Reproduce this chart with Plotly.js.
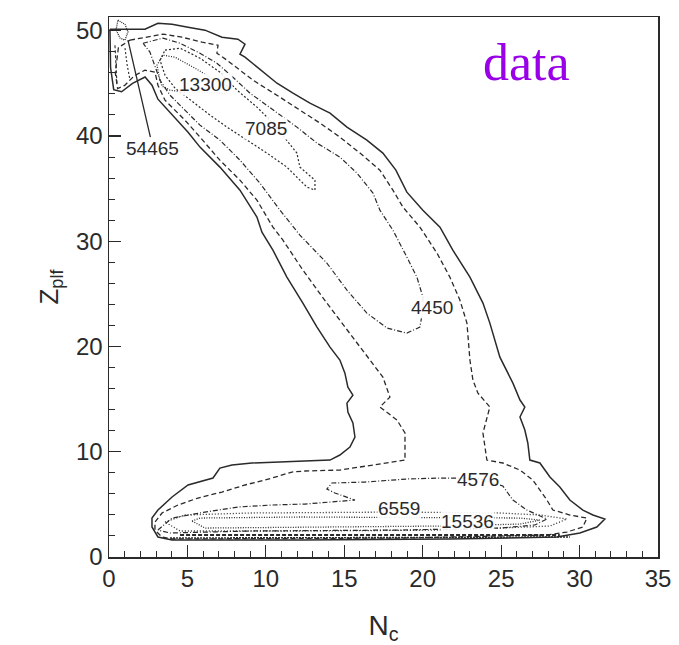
<!DOCTYPE html>
<html>
<head>
<meta charset="utf-8">
<script src="https://cdn.plot.ly/plotly-3.0.1.min.js"></script>
<style>html,body{margin:0;padding:0;background:#fff;}</style>
</head>
<body>
<div id="chart" style="width:679px;height:645px;"></div>
<script>
// Contour lines (x = N_c, y = Z_plf)
const solidX = [0.06,2.29,3.12,4.02,5.04,6.12,7.20,8.22,8.67,8.35,8.67,9.50,10.71,11.73,12.81,14.09,15.17,16.44,17.46,18.29,18.99,20.01,21.10,21.92,23.01,23.84,24.28,24.92,25.75,26.20,26.51,26.20,26.51,26.70,26.83,27.47,28.11,28.74,29.38,30.21,30.85,31.61,31.10,30.02,28.55,21.73,12.17,4.02,3.12,2.74,2.74,3.12,4.02,5.04,6.12,6.63,7.07,7.84,9.11,10.77,12.49,14.09,14.72,15.36,15.68,15.55,15.23,15.17,15.55,15.23,15.04,14.72,14.09,13.26,12.36,11.34,10.45,9.75,9.43,8.35,7.07,5.80,5.04,4.02,3.12,2.74,2.30,1.50,0.80,0.30,0.10,0.06];
const solidY = [50.14,50.14,50.71,50.62,50.33,50.05,49.38,49.19,48.72,47.77,47.48,46.44,45.01,44.06,43.11,42.17,40.84,39.60,38.37,36.75,34.66,32.95,31.34,29.15,26.59,24.12,22.22,18.99,16.52,14.91,14.25,13.30,12.06,10.83,9.21,8.93,7.60,6.65,5.41,4.46,3.99,3.61,2.85,2.28,1.90,1.71,1.61,1.61,1.90,2.85,3.70,4.46,5.70,6.84,7.31,7.50,8.45,8.74,8.93,9.02,9.12,9.21,9.69,10.45,11.40,12.73,13.77,14.62,15.38,16.14,17.47,18.71,19.94,21.84,24.12,26.59,29.15,30.86,32.29,34.85,37.04,38.94,40.36,41.98,43.49,44.82,45.60,45.00,44.20,44.40,46.50,50.14];

const dashX = [1.34,2.29,3.44,4.65,5.93,6.95,6.88,7.52,9.18,10.90,12.17,13.45,14.72,16.00,17.27,18.10,18.74,19.82,20.91,21.73,22.37,22.82,23.01,23.20,23.52,24.28,23.84,24.09,25.11,26.20,27.02,27.47,27.92,28.30,29.38,30.47,30.21,29.19,27.92,18.55,4.02,3.38,2.93,2.93,3.38,4.40,5.67,7.20,8.67,10.39,11.66,12.49,14.72,16.83,18.87,18.87,18.36,17.27,17.91,17.46,16.63,15.36,13.89,12.36,11.09,10.45,9.43,8.35,7.07,5.80,4.84,3.57,3.12,2.93,2.29,1.60,1.00,0.55,0.40,0.60,1.34];
const dashY = [49.10,49.38,49.67,49.38,48.91,48.62,47.86,47.20,45.30,43.68,42.45,41.22,39.89,38.37,36.75,34.85,33.24,31.34,28.87,26.59,24.41,22.22,18.71,16.81,15.57,14.25,11.78,9.21,8.93,8.26,7.31,6.36,5.41,4.46,3.99,3.70,2.85,2.37,2.09,1.80,1.71,1.90,2.56,3.32,4.18,4.94,5.60,6.17,6.84,7.50,8.07,8.17,8.26,8.74,9.21,11.78,13.01,14.25,15.19,17.09,18.71,21.27,24.12,27.26,30.10,31.34,33.90,35.80,37.70,39.89,41.50,43.40,44.82,46.06,46.25,45.70,44.80,44.50,46.00,48.40,49.10];

const c4450X = [2.17,3.44,4.53,5.80,6.88,7.90,8.99,10.45,11.98,13.26,14.72,15.81,16.83,17.27,18.10,18.99,19.63,20.01,20.01,19.82,18.99,17.72,16.44,15.17,13.89,12.17,10.90,9.62,8.35,7.07,5.80,4.84,3.89,3.25,2.93,2.61,2.17];
const c4450Y = [48.81,49.29,48.81,47.86,46.91,45.58,44.06,42.45,40.84,39.32,37.99,36.47,34.57,32.95,31.05,28.49,26.59,24.69,23.46,21.84,21.27,21.75,23.17,25.36,27.92,30.58,32.95,35.52,37.70,39.60,41.03,42.45,43.87,45.30,46.72,47.96,48.81];

const c7085X = [3.57,4.53,5.80,7.07,8.16,9.43,10.45,11.34,11.98,12.17,12.62,13.13,13.13,12.62,12.17,11.34,10.07,8.80,7.52,6.44,5.16,4.21,3.57,3.25,3.57];
const c7085Y = [48.15,48.34,47.39,46.06,44.35,42.74,41.22,39.60,38.37,37.04,36.47,35.80,34.85,35.14,35.80,37.04,38.37,39.60,40.84,41.98,43.40,44.54,45.77,47.20,48.15];

const c13300X = [3.25,3.06,3.44,4.21,5.48,6.76,7.84,7.39,6.12,4.84,3.89,3.38,3.25];
const c13300Y = [45.30,46.72,47.67,47.48,46.44,45.30,44.54,44.06,44.16,44.16,44.35,44.73,45.30];

const c54465X = [0.57,1.02,1.21,1.02,0.70,0.45,0.57];
const c54465Y = [51.0,50.6,49.9,49.1,49.3,50.1,51.0];

const fanAX = [0.38,0.45,0.51];
const fanAY = [48.62,46.5,44.9];
const fanBX = [1.02,1.15,1.34];
const fanBY = [48.34,46.8,45.30];

const c4576X = [3.12,4.02,6.12,8.22,10.39,12.49,15.68,14.40,13.89,14.21,16.32,18.99,21.10,23.52,25.11,25.75,26.64,27.92,27.15,24.92,18.55,8.99,3.89,3.12];
const c4576Y = [2.56,3.70,4.27,4.75,4.94,5.03,5.41,6.08,6.46,7.03,7.12,7.41,7.50,7.50,6.74,5.41,4.46,3.61,3.04,2.75,2.56,2.47,2.28,2.56];

const c6559X = [3.57,4.84,8.99,18.55,24.92,27.47,29.19,28.11,21.73,12.17,4.53,3.57];
const c6559Y = [3.32,3.99,4.18,4.27,4.18,3.99,3.61,2.94,2.56,2.47,2.47,3.32];

const c15536X = [5.29,5.80,12.17,21.10,26.20,27.47,26.20,21.10,12.17,6.12,5.29];
const c15536Y = [3.42,3.70,3.80,3.70,3.70,3.51,3.13,2.94,2.85,2.75,3.42];

const coreAX = [4.53,12.0,20.0,28.74];
const coreAY = [2.09,2.09,2.09,2.09];
const coreBX = [3.89,12.0,20.0,29.38];
const coreBY = [1.80,1.80,1.85,1.90];

const levelLabels = ['54465','13300','7085','4450','4576','6559','15536'];
const labelX = [2.80, 6.12, 10.0, 20.6, 23.52, 18.48, 22.88];
const labelY = [38.84, 44.9, 40.75, 23.7, 7.41, 4.65, 3.42];

const ink = '#2a2a2a';
function line(x, y, dash, w) {
  return {x: x, y: y, type: 'scatter', mode: 'lines', hoverinfo: 'skip',
          line: {color: ink, width: w || 1.3, dash: dash}};
}
const traces = [
  line(solidX, solidY, 'solid', 1.5),
  line(dashX, dashY, '5px,3px', 1.3),
  line(c4450X, c4450Y, '5px,2px,1px,2px', 1.2),
  line(c7085X, c7085Y, '2px,2px', 1.2),
  line(c13300X, c13300Y, '1px,1.5px', 1.3),
  line(c54465X, c54465Y, '1px,1px', 1.3),
  line(fanAX, fanAY, '3px,2px', 1.1),
  line(fanBX, fanBY, '2px,2px', 1.1),
  line(c4576X, c4576Y, '5px,2px,1px,2px', 1.2),
  line(c6559X, c6559Y, '1px,2px', 1.3),
  line(c15536X, c15536Y, '1px,1.5px', 1.3),
  line(coreAX, coreAY, '4px,2px', 2),
  line(coreBX, coreBY, '2px,1px', 1.6)
];

const txtFont = {family: 'Liberation Sans, Arial, sans-serif', size: 19, color: ink};
const annotations = levelLabels.map((t, i) => {
  const a = {x: labelX[i], y: labelY[i], xref: 'x', yref: 'y', text: t,
             showarrow: false, font: txtFont, bgcolor: 'rgba(255,255,255,0.9)', borderpad: 0};
  if (t === '54465') {
    a.showarrow = true; a.arrowhead = 0; a.arrowwidth = 1.3; a.arrowcolor = ink;
    a.x = 1.21; a.y = 49.1; a.ax = labelX[i]; a.ay = labelY[i]; a.axref = 'x'; a.ayref = 'y';
  }
  return a;
});
annotations.push({x: 26.6, y: 47.0, xref: 'x', yref: 'y', text: 'data', showarrow: false,
  font: {family: 'Liberation Serif, Times New Roman, serif', size: 52, color: '#9a00e8'}});

const layout = {
  width: 679, height: 645,
  margin: {l: 109, r: 21, t: 17, b: 88},
  paper_bgcolor: '#fff', plot_bgcolor: '#fff',
  showlegend: false,
  xaxis: {
    range: [0, 35], dtick: 5, tick0: 0, ticks: 'inside', ticklen: 12, tickwidth: 1.2, tickcolor: ink,
    minor: {dtick: 1, ticks: 'inside', ticklen: 6, tickwidth: 1, tickcolor: ink},
    showline: true, linecolor: ink, linewidth: 1.5, mirror: true, showgrid: false, zeroline: false,
    tickfont: {family: 'Liberation Sans, Arial, sans-serif', size: 24, color: ink},
    title: {text: 'N<sub>c</sub>', font: {family: 'Liberation Sans, Arial, sans-serif', size: 28, color: ink}, standoff: 28}
  },
  yaxis: {
    range: [0, 51.3], dtick: 10, tick0: 0, ticks: 'inside', ticklen: 12, tickwidth: 1.2, tickcolor: ink,
    minor: {dtick: 2, ticks: 'inside', ticklen: 6, tickwidth: 1, tickcolor: ink},
    showline: true, linecolor: ink, linewidth: 1.5, mirror: true, showgrid: false, zeroline: false,
    tickfont: {family: 'Liberation Sans, Arial, sans-serif', size: 24, color: ink},
    title: {text: 'Z<sub>plf</sub>', font: {family: 'Liberation Sans, Arial, sans-serif', size: 26, color: ink}, standoff: 10}
  },
  annotations: annotations
};
Plotly.newPlot('chart', traces, layout, {displayModeBar: false, staticPlot: true});
</script>
</body>
</html>
